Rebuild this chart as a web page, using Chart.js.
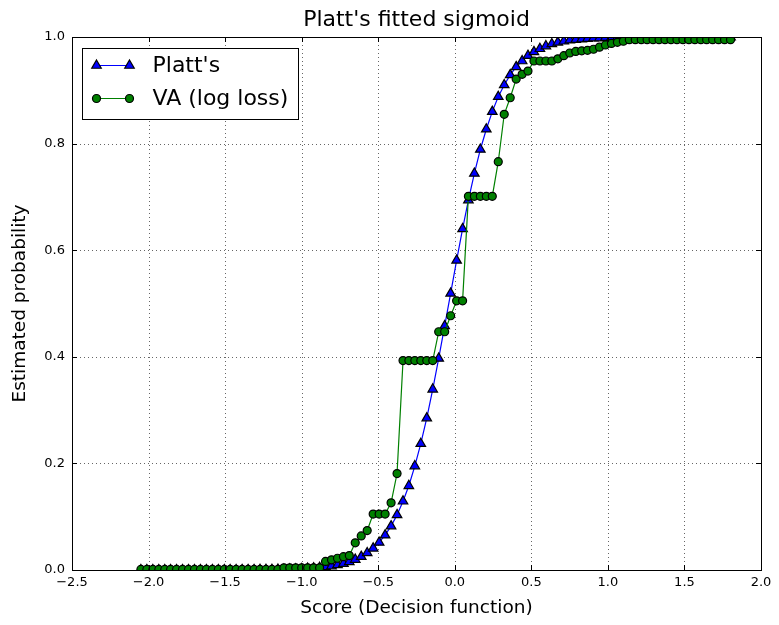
<!DOCTYPE html>
<html>
<head>
<meta charset="utf-8">
<title>Platt's fitted sigmoid</title>
<script src="https://cdn.jsdelivr.net/npm/chart.js@4.4.1/dist/chart.umd.min.js"></script>
<style>
    html, body { margin: 0; padding: 0; background: #ffffff; }
    #wrap { width: 779px; height: 625px; }
</style>
</head>
<body>
<div id="wrap"><canvas id="plattChart" width="779" height="625"></canvas></div>
<script>
// decision function scores (x) shared by both curves
var scores = [
    -2.050, -2.011, -1.972, -1.933, -1.894, -1.856, -1.817, -1.778, -1.739, -1.700,
    -1.661, -1.622, -1.583, -1.544, -1.505, -1.467, -1.428, -1.389, -1.350, -1.311,
    -1.272, -1.233, -1.194, -1.155, -1.116, -1.078, -1.039, -1.000, -0.961, -0.922,
    -0.883, -0.844, -0.805, -0.766, -0.727, -0.689, -0.650, -0.611, -0.572, -0.533,
    -0.494, -0.455, -0.416, -0.377, -0.338, -0.300, -0.261, -0.222, -0.183, -0.144,
    -0.105, -0.066, -0.027, 0.012, 0.051, 0.089, 0.128, 0.167, 0.206, 0.245,
    0.284, 0.323, 0.362, 0.401, 0.440, 0.478, 0.517, 0.556, 0.595, 0.634,
    0.673, 0.712, 0.751, 0.790, 0.829, 0.867, 0.906, 0.945, 0.984, 1.023,
    1.062, 1.101, 1.140, 1.179, 1.218, 1.256, 1.295, 1.334, 1.373, 1.412,
    1.451, 1.490, 1.529, 1.568, 1.607, 1.645, 1.684, 1.723, 1.762, 1.801
];

// Platt's sigmoid
var plattProb = [
    0.0000, 0.0000, 0.0000, 0.0000, 0.0000, 0.0000, 0.0000, 0.0000, 0.0000, 0.0000,
    0.0000, 0.0000, 0.0001, 0.0001, 0.0001, 0.0001, 0.0001, 0.0002, 0.0002, 0.0003,
    0.0004, 0.0005, 0.0006, 0.0008, 0.0010, 0.0013, 0.0017, 0.0021, 0.0027, 0.0035,
    0.0045, 0.0058, 0.0074, 0.0095, 0.0121, 0.0154, 0.0196, 0.0251, 0.0320, 0.0407,
    0.0517, 0.0654, 0.0824, 0.1034, 0.129, 0.158, 0.195, 0.237, 0.285, 0.339,
    0.397, 0.458, 0.519, 0.581, 0.640, 0.694, 0.744, 0.789, 0.827, 0.860,
    0.888, 0.910, 0.929, 0.944, 0.955, 0.965, 0.972, 0.978, 0.983, 0.987,
    0.990, 0.992, 0.994, 0.995, 0.996, 0.997, 0.998, 0.998, 0.999, 0.999,
    0.999, 0.9994, 0.9995, 0.9996, 0.9997, 0.9998, 0.9998, 0.9998, 0.9999, 0.9999,
    0.9999, 0.9999, 0.9999, 0.9999, 0.9999, 0.9999, 0.9999, 0.9999, 0.9999, 0.9999
];

// Venn-ABERS (log loss) step curve
var vaProb = [
    0.001, 0.001, 0.001, 0.001, 0.001, 0.001, 0.001, 0.001, 0.001, 0.001,
    0.001, 0.001, 0.001, 0.001, 0.001, 0.001, 0.001, 0.001, 0.001, 0.001,
    0.001, 0.001, 0.001, 0.001, 0.004, 0.004, 0.004, 0.004, 0.004, 0.004,
    0.004, 0.016, 0.019, 0.022, 0.025, 0.027, 0.051, 0.064, 0.074, 0.105,
    0.105, 0.105, 0.126, 0.181, 0.393, 0.393, 0.393, 0.393, 0.393, 0.393,
    0.447, 0.447, 0.477, 0.505, 0.505, 0.701, 0.701, 0.701, 0.701, 0.701,
    0.766, 0.855, 0.886, 0.921, 0.930, 0.936, 0.955, 0.955, 0.955, 0.955,
    0.959, 0.965, 0.970, 0.973, 0.974, 0.975, 0.977, 0.981, 0.985, 0.988,
    0.990, 0.992, 0.995, 0.995, 0.995, 0.995, 0.995, 0.995, 0.995, 0.995,
    0.995, 0.995, 0.995, 0.995, 0.995, 0.995, 0.995, 0.995, 0.995, 0.995
];

var seriesLabels = ["Platt's", 'VA (log loss)'];
var xTickValues = [-2.5, -2.0, -1.5, -1.0, -0.5, 0.0, 0.5, 1.0, 1.5, 2.0];
var yTickValues = [0.0, 0.2, 0.4, 0.6, 0.8, 1.0];

function toPoints(ys) {
    return scores.map(function (x, i) { return { x: x, y: ys[i] }; });
}

// matplotlib style minus sign
function fmtTick(v) {
    var s = Number(v).toFixed(1);
    return s.charAt(0) === '-' ? '\u2212' + s.slice(1) : s;
}

function drawMarker(ctx, style, x, y, r, fill) {
    ctx.beginPath();
    if (style === 'triangle') {
        ctx.moveTo(x, y - r);
        ctx.lineTo(x + 0.866 * r, y + 0.5 * r);
        ctx.lineTo(x - 0.866 * r, y + 0.5 * r);
        ctx.closePath();
    } else {
        ctx.arc(x, y, r, 0, Math.PI * 2);
    }
    ctx.fillStyle = fill;
    ctx.fill();
    ctx.lineWidth = 1.2;
    ctx.strokeStyle = '#000000';
    ctx.stroke();
}

// dotted grid, frame with inward ticks and the in-axes legend
var mplAxes = {
    id: 'mplAxes',
    beforeDatasetsDraw: function (chart) {
        var ctx = chart.ctx, a = chart.chartArea;
        var xs = chart.scales.x, ys = chart.scales.y;
        ctx.save();
        ctx.strokeStyle = 'rgba(0, 0, 0, 0.6)';
        ctx.lineWidth = 1;
        ctx.setLineDash([1, 3]);
        xTickValues.forEach(function (v) {
            var px = Math.round(xs.getPixelForValue(v)) + 0.5;
            ctx.beginPath(); ctx.moveTo(px, a.top); ctx.lineTo(px, a.bottom); ctx.stroke();
        });
        yTickValues.forEach(function (v) {
            var py = Math.round(ys.getPixelForValue(v)) + 0.5;
            ctx.beginPath(); ctx.moveTo(a.left, py); ctx.lineTo(a.right, py); ctx.stroke();
        });
        ctx.restore();
    },
    afterDatasetsDraw: function (chart) {
        var ctx = chart.ctx, a = chart.chartArea;
        var xs = chart.scales.x, ys = chart.scales.y;
        var tick = 5;
        ctx.save();
        ctx.strokeStyle = '#000000';
        ctx.lineWidth = 1;
        ctx.strokeRect(Math.round(a.left) + 0.5, Math.round(a.top) + 0.5,
            Math.round(a.right - a.left), Math.round(a.bottom - a.top));
        ctx.beginPath();
        xTickValues.forEach(function (v) {
            var px = Math.round(xs.getPixelForValue(v)) + 0.5;
            ctx.moveTo(px, a.bottom); ctx.lineTo(px, a.bottom - tick);
            ctx.moveTo(px, a.top); ctx.lineTo(px, a.top + tick);
        });
        yTickValues.forEach(function (v) {
            var py = Math.round(ys.getPixelForValue(v)) + 0.5;
            ctx.moveTo(a.left, py); ctx.lineTo(a.left + tick, py);
            ctx.moveTo(a.right, py); ctx.lineTo(a.right - tick, py);
        });
        ctx.stroke();

        // legend box (upper left, inside the axes)
        var bx = Math.round(a.left) + 10.5, by = Math.round(a.top) + 11.5;
        var bw = 216, bh = 71;
        ctx.fillStyle = '#ffffff';
        ctx.fillRect(bx, by, bw, bh);
        ctx.strokeRect(bx, by, bw, bh);
        chart.data.datasets.forEach(function (ds, i) {
            var rowY = by + 17 + i * 33;
            var x1 = bx + 14, x2 = bx + 47;
            ctx.beginPath();
            ctx.moveTo(x1, rowY); ctx.lineTo(x2, rowY);
            ctx.strokeStyle = ds.borderColor;
            ctx.lineWidth = ds.borderWidth;
            ctx.stroke();
            drawMarker(ctx, ds.pointStyle, x1, rowY, ds.pointRadius, ds.pointBackgroundColor);
            drawMarker(ctx, ds.pointStyle, x2, rowY, ds.pointRadius, ds.pointBackgroundColor);
            ctx.fillStyle = '#000000';
            ctx.font = '22px "DejaVu Sans"';
            ctx.textBaseline = 'middle';
            ctx.textAlign = 'left';
            ctx.fillText(ds.label, bx + 70, rowY + 1);
        });
        ctx.restore();
    }
};

Chart.defaults.font.family = '"DejaVu Sans", sans-serif';
Chart.defaults.color = '#000000';

var ctx = document.getElementById('plattChart').getContext('2d');
var plattChart = new Chart(ctx, {
    type: 'line',
    data: {
        datasets: [{
            label: seriesLabels[0],
            data: toPoints(plattProb),
            borderColor: '#0000ff',
            borderWidth: 1.2,
            pointStyle: 'triangle',
            pointRadius: 5.5,
            pointBackgroundColor: '#0000ff',
            pointBorderColor: '#000000',
            pointBorderWidth: 1.2,
            tension: 0,
            clip: 0,
            order: 2
        }, {
            label: seriesLabels[1],
            data: toPoints(vaProb),
            borderColor: '#008000',
            borderWidth: 1.2,
            pointStyle: 'circle',
            pointRadius: 4,
            pointBackgroundColor: '#008000',
            pointBorderColor: '#000000',
            pointBorderWidth: 1.2,
            tension: 0,
            clip: 0,
            order: 1
        }]
    },
    options: {
        responsive: false,
        animation: false,
        events: [],
        layout: { padding: { left: 0, right: 18, top: 0, bottom: 0 } },
        scales: {
            x: {
                type: 'linear',
                min: -2.5,
                max: 2.0,
                afterBuildTicks: function (scale) {
                    scale.ticks = xTickValues.map(function (v) { return { value: v }; });
                },
                afterFit: function (scale) { scale.height = 55; },
                grid: { display: false, drawTicks: false, tickLength: 0 },
                border: { display: false },
                ticks: {
                    padding: 5,
                    maxRotation: 0,
                    autoSkip: false,
                    font: { size: 13 },
                    callback: function (v) { return fmtTick(v); }
                },
                title: {
                    display: true,
                    text: 'Score (Decision function)',
                    font: { size: 18.5 },
                    padding: { top: 0, bottom: 6 }
                }
            },
            y: {
                type: 'linear',
                min: 0,
                max: 1,
                afterBuildTicks: function (scale) {
                    scale.ticks = yTickValues.map(function (v) { return { value: v }; });
                },
                afterFit: function (scale) { scale.width = 72; },
                grid: { display: false, drawTicks: false, tickLength: 0 },
                border: { display: false },
                ticks: {
                    padding: 7,
                    font: { size: 13 },
                    callback: function (v) { return fmtTick(v); }
                },
                title: {
                    display: true,
                    text: 'Estimated probability',
                    font: { size: 18.5 },
                    padding: { top: 9, bottom: 0 }
                }
            }
        },
        plugins: {
            legend: { display: false },
            tooltip: { enabled: false },
            title: {
                display: true,
                fullSize: false,
                text: "Platt's fitted sigmoid",
                font: { size: 22, weight: 'normal', lineHeight: 1.2 },
                padding: { top: 6.8, bottom: 3.8 }
            }
        }
    },
    plugins: [mplAxes]
});
</script>
</body>
</html>
